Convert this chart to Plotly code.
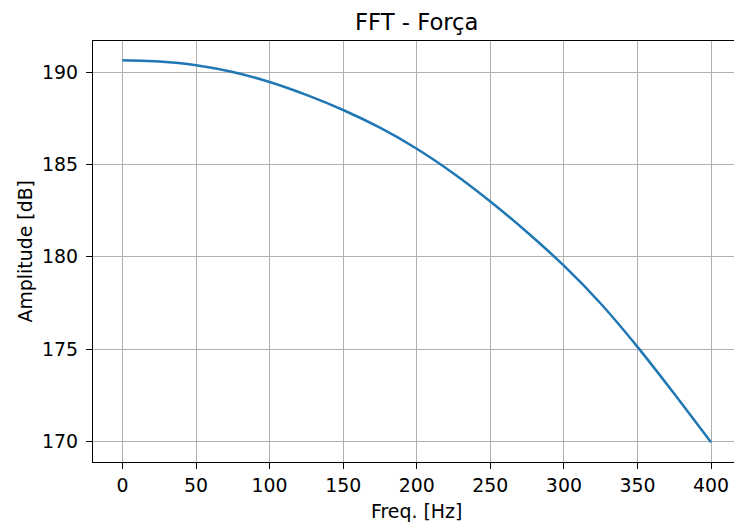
import plotly.graph_objects as go

freq_hz = [0, 25, 50, 75, 100, 125, 150, 175, 200, 225, 250, 275, 300, 325, 350, 375, 400]
amplitude_db = [190.65, 190.59, 190.39, 190.02, 189.48, 188.78, 187.96, 187.00, 185.86,
                184.52, 183.00, 181.33, 179.52, 177.47, 175.12, 172.58, 169.95]

x_ticks = [0, 50, 100, 150, 200, 250, 300, 350, 400]
y_ticks = [170, 175, 180, 185, 190]

title_text = "FFT - Força"
x_label = "Freq. [Hz]"
y_label = "Amplitude [dB]"

FONT = "DejaVu Sans"
TICK = 18.9

fig = go.Figure()
fig.add_trace(go.Scatter(
    x=freq_hz, y=amplitude_db, mode="lines",
    line=dict(color="#1f77b4", width=2.5, shape="spline", smoothing=0.5),
    showlegend=False, hoverinfo="skip",
))

axis_common = dict(
    showgrid=True, gridcolor="#b0b0b0", gridwidth=1.3,
    showline=True, linecolor="black", linewidth=1.3,
    ticks="outside", ticklen=6, tickwidth=1.3, tickcolor="black",
    tickfont=dict(family=FONT, size=TICK, color="black"),
    zeroline=False,
)

fig.update_layout(
    width=734, height=524,
    margin=dict(l=93, r=0, t=41, b=62),
    paper_bgcolor="white", plot_bgcolor="white",
    font=dict(family=FONT, color="black"),
    xaxis=dict(range=[-20, 415.6], tickvals=x_ticks, mirror=True, **axis_common),
    yaxis=dict(range=[168.88, 191.7], tickvals=y_ticks, mirror=False,
               ticklabelstandoff=4, **axis_common),
    annotations=[
        dict(text=title_text, xref="paper", yref="paper", x=0.505, y=1.045,
             xanchor="center", yanchor="middle", showarrow=False,
             font=dict(family=FONT, size=22.7, color="black")),
        dict(text=x_label, xref="paper", yref="paper", x=0.505, y=-0.116,
             xanchor="center", yanchor="middle", showarrow=False,
             font=dict(family=FONT, size=TICK, color="black")),
        dict(text=y_label, xref="paper", yref="paper", x=-0.1076, y=0.5,
             xanchor="center", yanchor="middle", showarrow=False, textangle=-90,
             font=dict(family=FONT, size=TICK, color="black")),
    ],
)

fig.write_html("out.html")
